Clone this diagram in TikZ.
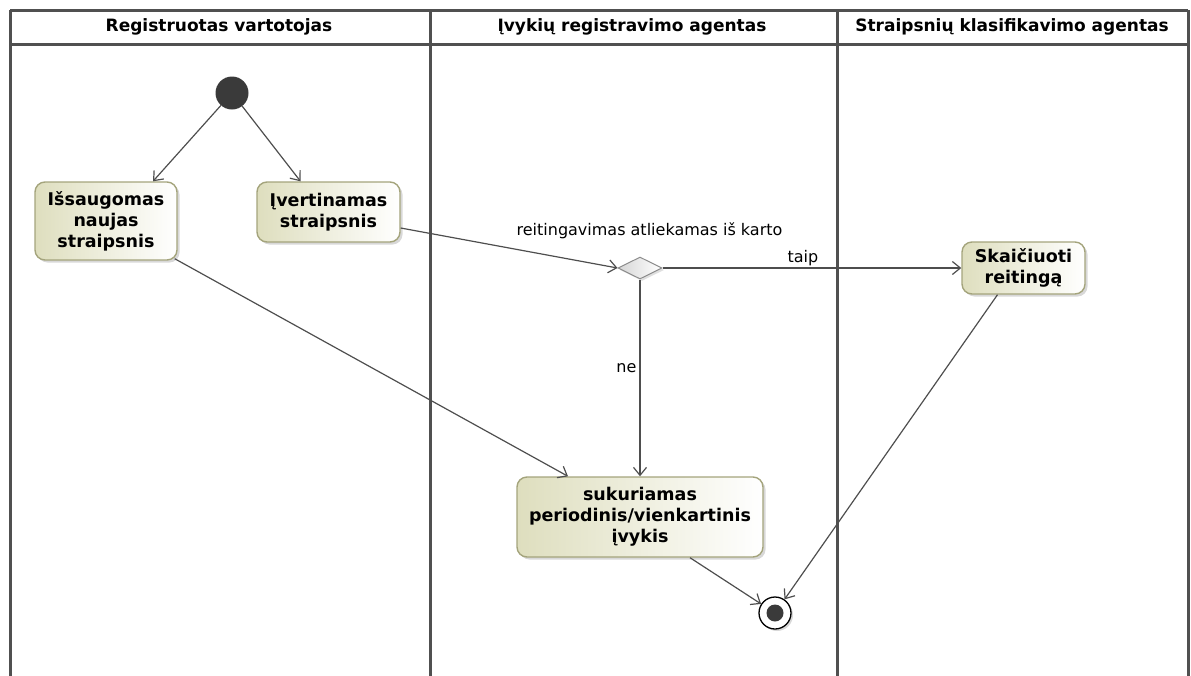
\documentclass[tikz,border=0pt]{standalone}
\usepackage{fontspec}
\setmainfont{DejaVu Sans}
\usetikzlibrary{arrows.meta,shadows,shapes.geometric}
\definecolor{lanegray}{HTML}{505050}
\definecolor{flowgray}{HTML}{4E4E4E}
\definecolor{actfill}{HTML}{DEDEBE}
\definecolor{actdraw}{HTML}{A4A47C}
\definecolor{dotfill}{HTML}{3A3A3A}
\definecolor{decfill}{HTML}{D6D6D6}
\begin{document}
\begin{tikzpicture}[x=1pt,y=-1pt,
  lane/.style={draw=lanegray, line width=3pt},
  lanehead/.style={font=\fontsize{17}{20}\selectfont\bfseries, inner sep=0pt},
  action/.style={rectangle, rounded corners=10pt, draw=actdraw, line width=1.4pt,
    left color=actfill, right color=white,
    drop shadow={shadow xshift=2.5pt, shadow yshift=-2.5pt, fill=black!30},
    font=\fontsize{17.5}{21}\selectfont\bfseries, align=center, inner sep=0pt},
  decision/.style={diamond, draw=black!45, line width=1pt, inner sep=0pt,
    left color=decfill, right color=white,
    drop shadow={shadow xshift=2pt, shadow yshift=-2pt, fill=black!25},
    minimum width=44pt, minimum height=22pt},
  startdot/.style={circle, fill=dotfill, inner sep=0pt, minimum size=33pt},
  enddot/.style={circle, draw=black, line width=1.3pt, fill=white, inner sep=0pt,
    minimum size=32pt, drop shadow={shadow xshift=2pt, shadow yshift=-2pt, fill=black!30}},
  flow/.style={draw=flowgray, line width=1.2pt,
    -{Straight Barb[length=8pt,width=13pt,line width=1.2pt]}},
  guard/.style={font=\fontsize{16}{19}\selectfont, inner sep=1pt}]
\useasboundingbox (0,0) rectangle (1191,675);

% swimlane frame
\draw[lane] (10,10) -- (1188,10);
\draw[lane] (10,44) -- (1188,44);
\draw[lane] (10,10) -- (10,676);
\draw[lane] (430,10) -- (430,676);
\draw[lane] (837,10) -- (837,676);
\draw[lane] (1188,10) -- (1188,676);

\node[lanehead] (h1) at (219,27) {Registruotas vartotojas};
\node[lanehead] (h2) at (632,27) {Įvykių registravimo agentas};
\node[lanehead] (h3) at (1012,27) {Straipsnių klasifikavimo agentas};

% nodes
\node[startdot] (init) at (232,93) {};
\node[action, minimum width=142pt, minimum height=78pt] (iss) at (106,221)
  {Išsaugomas\\naujas\\straipsnis};
\node[action, minimum width=143pt, minimum height=60pt] (ivert) at (328.5,212)
  {Įvertinamas\\straipsnis};
\node[decision] (dec) at (640,268) {};
\node[action, minimum width=123pt, minimum height=52pt] (skai) at (1023.5,268)
  {Skaičiuoti\\reitingą};
\node[action, minimum width=246pt, minimum height=80pt] (suk) at (640,517)
  {sukuriamas\\periodinis/vienkartinis\\įvykis};
\node[enddot] (fin) at (775,613) {};
\fill[dotfill] (fin.center) circle (8.5pt);

% control flows
\draw[flow] (init) -- ([xshift=47pt]iss.north);
\draw[flow] (init) -- ([xshift=-28pt]ivert.north);
\draw[flow] ([xshift=-3pt,yshift=2pt]iss.south east) -- ([xshift=-72pt]suk.north);
\draw[flow] ([yshift=-16pt]ivert.east) -- (dec.west)
  node[guard, pos=1, xshift=32pt, yshift=37pt] (g1) {reitingavimas atliekamas iš karto};
\draw[flow] (dec.east) -- (skai.west)
  node[guard, pos=0.47, above=1pt] (g2) {taip};
\draw[flow] (dec.south) -- (suk.north)
  node[guard, pos=0.45, left=2pt] (g3) {ne};
\draw[flow] ([xshift=50pt]suk.south) -- (fin);
\draw[flow] ([xshift=-26pt]skai.south) -- (fin);
\end{tikzpicture}
\end{document}
